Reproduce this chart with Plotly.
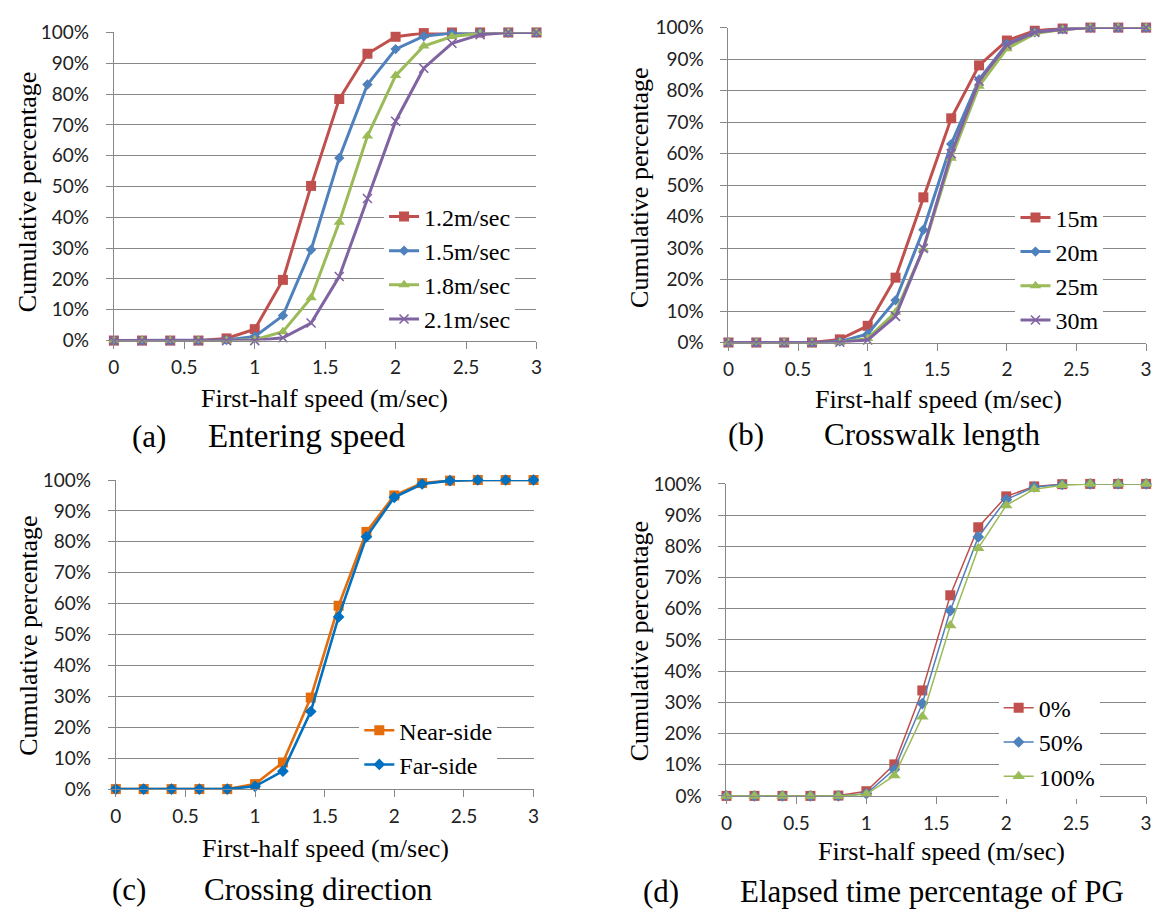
import plotly.graph_objects as go

# ---------------- data ----------------
speed = [0, 0.2, 0.4, 0.6, 0.8, 1.0, 1.2, 1.4, 1.6, 1.8, 2.0, 2.2, 2.4, 2.6, 2.8, 3.0]

# (a) Entering speed
enter_12 = [0, 0, 0, 0, 0.7, 3.7, 19.7, 50.2, 78.4, 93.1, 98.6, 99.8, 100, 100, 100, 100]
enter_15 = [0, 0, 0, 0, 0.2, 1.3, 8.1, 29.5, 59.3, 83.1, 94.6, 98.8, 99.8, 100, 100, 100]
enter_18 = [0, 0, 0, 0, 0, 0.3, 2.9, 13.9, 38.4, 66.4, 86.0, 95.6, 98.7, 99.7, 100, 100]
enter_21 = [0, 0, 0, 0, 0, 0, 0.9, 5.7, 20.8, 46.1, 71.2, 88.4, 96.5, 99.3, 100, 100]
enter_names = ["1.2m/sec", "1.5m/sec", "1.8m/sec", "2.1m/sec"]

# (b) Crosswalk length
len_15 = [0, 0, 0, 0, 1.0, 5.3, 20.6, 46.1, 71.2, 88.0, 95.9, 99.0, 99.7, 100, 100, 100]
len_20 = [0, 0, 0, 0, 0.3, 2.7, 13.4, 35.8, 63.0, 83.5, 94.8, 98.5, 99.5, 100, 100, 100]
len_25 = [0, 0, 0, 0, 0.1, 1.3, 9.6, 29.7, 58.5, 81.4, 93.3, 98.1, 99.4, 100, 100, 100]
len_30 = [0, 0, 0, 0, 0.1, 0.8, 8.3, 29.9, 60.0, 83.0, 94.5, 98.5, 99.4, 100, 100, 100]
len_names = ["15m", "20m", "25m", "30m"]

# (c) Crossing direction
dir_near = [0, 0, 0, 0, 0, 1.6, 8.6, 29.6, 59.3, 83.2, 95.0, 99.0, 99.8, 100, 100, 100]
dir_far = [0, 0, 0, 0, 0, 0.9, 5.8, 25.1, 55.7, 81.6, 94.4, 98.7, 99.8, 100, 100, 100]
dir_names = ["Near-side", "Far-side"]

# (d) Elapsed time percentage of PG
pg_0 = [0, 0, 0, 0, 0.1, 1.5, 10.1, 33.8, 64.3, 86.1, 96.0, 99.2, 99.9, 100, 100, 100]
pg_50 = [0, 0, 0, 0, 0, 0.7, 8.5, 29.6, 59.4, 83.0, 95.0, 99.0, 99.8, 100, 100, 100]
pg_100 = [0, 0, 0, 0, 0, 0.5, 6.5, 25.4, 54.6, 79.4, 93.1, 98.3, 99.6, 100, 100, 100]
pg_names = ["0%", "50%", "100%"]

y_ticks = [0, 10, 20, 30, 40, 50, 60, 70, 80, 90, 100]
y_tick_text = ["0%", "10%", "20%", "30%", "40%", "50%", "60%", "70%", "80%", "90%", "100%"]
x_ticks = [0, 0.5, 1, 1.5, 2, 2.5, 3]
x_tick_text = ["0", "0.5", "1", "1.5", "2", "2.5", "3"]

captions = [("(a)", "Entering speed"), ("(b)", "Crosswalk length"),
            ("(c)", "Crossing direction"), ("(d)", "Elapsed time percentage of PG")]

# ---------------- styles ----------------
W, H = 1164, 920
RED, BLUE, GREEN, PURPLE = "#C0504D", "#4F81BD", "#9BBB59", "#8064A2"
ORANGE, DBLUE = "#E46C0A", "#0070C0"
GRID = "#888888"
SERIF = "Liberation Serif, Times New Roman, serif"
SANS = "Lato, Carlito, Calibri, sans-serif"

def px(x):
    return x / W

def py(y):
    return 1 - y / H

# panel geometry in pixels: (x0, x3, y100, y0)
panels = [
    (109, 536, 21, 337),
    (730, 1152, 16, 339),
    (111, 533, 480, 797),
    (728, 1152, 484, 804),
]

fig = go.Figure()

def add(series, name, color, symbol, msize, lw, axis_idx, legend):
    sfx = "" if axis_idx == 1 else str(axis_idx)
    mk = dict(symbol=symbol, size=msize, color=color)
    if symbol == "x-thin":
        mk["line"] = dict(color=color, width=1.6)
    fig.add_trace(go.Scatter(
        x=speed, y=series, name=name, mode="lines+markers",
        line=dict(color=color, width=lw), marker=mk,
        xaxis="x" + sfx, yaxis="y" + sfx, legend=legend, cliponaxis=False,
    ))

# (a)
add(enter_12, enter_names[0], RED, "square", 10, 3, 1, "legend")
add(enter_15, enter_names[1], BLUE, "diamond", 8, 3, 1, "legend")
add(enter_18, enter_names[2], GREEN, "triangle-up", 10, 3, 1, "legend")
add(enter_21, enter_names[3], PURPLE, "x-thin", 9, 3, 1, "legend")
# (b)
add(len_15, len_names[0], RED, "square", 10, 3, 2, "legend2")
add(len_20, len_names[1], BLUE, "diamond", 8, 3, 2, "legend2")
add(len_25, len_names[2], GREEN, "triangle-up", 10, 3, 2, "legend2")
add(len_30, len_names[3], PURPLE, "x-thin", 9, 3, 2, "legend2")
# (c)
add(dir_near, dir_names[0], ORANGE, "square", 10, 2.6, 3, "legend3")
add(dir_far, dir_names[1], DBLUE, "diamond", 9, 2.6, 3, "legend3")
# (d)
add(pg_0, pg_names[0], RED, "square", 10, 1.5, 4, "legend4")
add(pg_50, pg_names[1], BLUE, "diamond", 9, 1.5, 4, "legend4")
add(pg_100, pg_names[2], GREEN, "triangle-up", 11, 1.5, 4, "legend4")

layout = dict(
    width=W, height=H, margin=dict(l=0, r=0, t=0, b=0),
    paper_bgcolor="white", plot_bgcolor="white", showlegend=True,
)

for i, (x0, x3, y100, y0) in enumerate(panels, start=1):
    sfx = "" if i == 1 else str(i)
    layout["xaxis" + sfx] = dict(
        domain=[px(x0), px(x3)], range=[0, 3], anchor="y" + sfx,
        tickmode="array", tickvals=x_ticks, ticktext=x_tick_text,
        ticks="outside", ticklen=7, tickcolor=GRID, tickwidth=1,
        showline=True, linecolor=GRID, linewidth=1, showgrid=False, zeroline=False,
        tickfont=dict(family=SANS, size=19, color="#222"), ticklabelstandoff=3,
        fixedrange=True,
    )
    layout["yaxis" + sfx] = dict(
        domain=[py(y0), py(y100)], range=[0, 100], anchor="x" + sfx,
        tickmode="array", tickvals=y_ticks, ticktext=y_tick_text,
        ticks="outside", ticklen=7, tickcolor=GRID, tickwidth=1,
        showline=True, linecolor=GRID, linewidth=1,
        showgrid=True, gridcolor=GRID, gridwidth=1, zeroline=False,
        tickfont=dict(family=SANS, size=19, color="#222"), ticklabelstandoff=13,
        fixedrange=True,
    )

legend_pos = [(382, 187), (1020, 188), (357, 714), (1003, 691)]
for i, (lx, ly) in enumerate(legend_pos, start=1):
    key = "legend" if i == 1 else "legend" + str(i)
    layout[key] = dict(
        x=px(lx), y=py(ly), xanchor="left", yanchor="top",
        bgcolor="white", borderwidth=0,
        font=dict(family=SERIF, size=24, color="black"),
        itemwidth=30, tracegroupgap=0,
    )

fig.update_layout(**layout)

# axis titles and captions as annotations
ytitle_pos = [(22, 185), (640, 180), (22, 640), (640, 645)]
xtitle_pos = [(322, 396), (942, 397), (323, 858), (945, 861)]
cap_pos = [((144, 435), (304, 435)), ((748, 433), (936, 433)),
           ((124, 900), (316, 900)), ((662, 902), (936, 902))]
cap_sizes = [33, 31, 31, 31]

for (x, y) in ytitle_pos:
    fig.add_annotation(text="Cumulative percentage", x=px(x), y=py(y), xref="paper", yref="paper",
                       showarrow=False, textangle=-90, xanchor="center", yanchor="middle",
                       font=dict(family=SERIF, size=26, color="black"))
for (x, y) in xtitle_pos:
    fig.add_annotation(text="First-half speed (m/sec)", x=px(x), y=py(y), xref="paper", yref="paper",
                       showarrow=False, xanchor="center", yanchor="middle",
                       font=dict(family=SERIF, size=26, color="black"))
for (lab, title), ((lx, ly), (tx, ty)), cs in zip(captions, cap_pos, cap_sizes):
    fig.add_annotation(text=lab, x=px(lx), y=py(ly), xref="paper", yref="paper",
                       showarrow=False, xanchor="center", yanchor="middle",
                       font=dict(family=SERIF, size=31, color="black"))
    fig.add_annotation(text=title, x=px(tx), y=py(ty), xref="paper", yref="paper",
                       showarrow=False, xanchor="center", yanchor="middle",
                       font=dict(family=SERIF, size=cs, color="black"))

fig.write_html("out.html")
